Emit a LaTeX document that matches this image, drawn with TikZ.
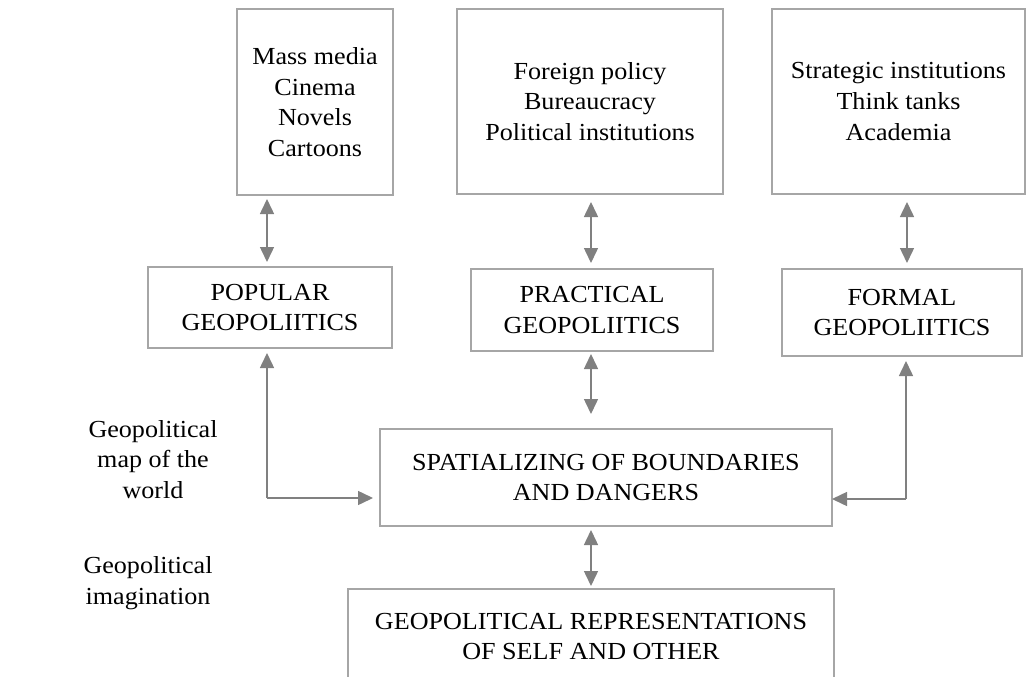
\documentclass[tikz,border=0pt]{standalone}
\usepackage{fontspec}
\setmainfont{Liberation Serif}[FakeStretch=1.065]
\usetikzlibrary{arrows.meta,calc}
\definecolor{boxgray}{RGB}{166,166,166}
\definecolor{arrgray}{RGB}{128,128,128}
\begin{document}
\begin{tikzpicture}[x=1pt,y=-1pt,
  txt/.style={align=center,font=\fontsize{24.5}{30.7}\selectfont},
  box/.style={txt,draw=boxgray,line width=2pt,inner sep=0pt},
  tip/.tip={Triangle[length=15pt,width=14pt]},
  arr/.style={draw=arrgray,line width=1.5pt,-tip},
  biarr/.style={draw=arrgray,line width=1.5pt,tip-tip}]
\clip (0,0) rectangle (1029,677);
% top boxes
\node[box,minimum width=156pt,minimum height=186pt] (media) at (315,102)
  {Mass media\\Cinema\\Novels\\Cartoons};
\node[box,minimum width=266pt,minimum height=185pt] (foreign) at (590,101.5)
  {Foreign policy\\Bureaucracy\\Political institutions};
\node[box,minimum width=253pt,minimum height=185pt] (strat) at (898.5,101.5)
  {Strategic institutions\\Think tanks\\Academia};
% middle boxes
\node[box,minimum width=244pt,minimum height=81pt] (pop) at (270,307.5)
  {POPULAR\\GEOPOLIITICS};
\node[box,minimum width=242pt,minimum height=82pt] (prac) at (592,310)
  {PRACTICAL\\GEOPOLIITICS};
\node[box,minimum width=240pt,minimum height=87pt] (form) at (902,312.5)
  {FORMAL\\GEOPOLIITICS};
% spatializing
\node[box,minimum width=452pt,minimum height=97pt] (spat) at (606,477.5)
  {SPATIALIZING OF BOUNDARIES\\AND DANGERS};
% bottom
\node[box,anchor=north,minimum width=486pt,inner ysep=24pt] (geo) at (591,588)
  {GEOPOLITICAL REPRESENTATIONS\\OF SELF AND OTHER};
% side labels
\node[txt] (map) at (153,459.5) {Geopolitical\\map of the\\world};
\node[txt] (imag) at (148,583) {Geopolitical\\imagination};
% connectors
\coordinate (a1) at (267,0);
\draw[biarr] (a1 |- media.south) ++(0,3) -- ($(a1 |- pop.north)+(0,-4)$);
\coordinate (a2) at (591,0);
\draw[biarr] ($(a2 |- foreign.south)+(0,7)$) -- ($(a2 |- prac.north)+(0,-5)$);
\coordinate (a3) at (907,0);
\draw[biarr] ($(a3 |- strat.south)+(0,7)$) -- ($(a3 |- form.north)+(0,-5)$);
\draw[biarr] ($(a2 |- prac.south)+(0,2)$) -- ($(a2 |- spat.north)+(0,-14)$);
\draw[biarr] ($(a2 |- spat.south)+(0,3)$) -- ($(a2 |- geo.north)+(0,-2)$);
\coordinate (c1) at (267,498);
\coordinate (c2) at (906,499);
\draw[arr] (c1) -- ($(c1 |- pop.south)+(0,4)$);
\draw[arr] (c1) -- ($(spat.west |- c1)+(-6,0)$);
\draw[arr] (c2) -- ($(c2 |- form.south)+(0,4)$);
\draw[arr] (c2) -- ($(spat.east |- c2)+(-1,0)$);
\end{tikzpicture}
\end{document}
